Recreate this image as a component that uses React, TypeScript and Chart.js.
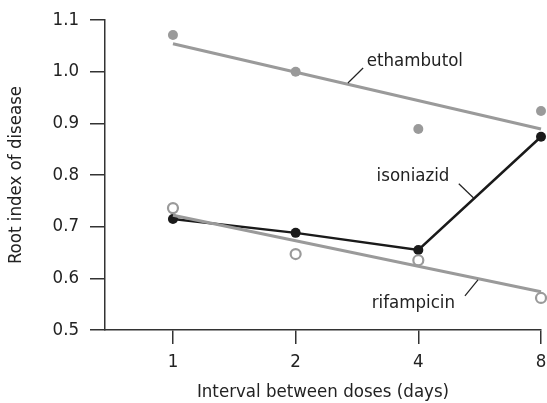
import React, { useEffect, useRef } from "react";
import { Chart, registerables } from "chart.js";
Chart.register(...registerables);

const doseLabels = ["1", "2", "4", "8"];
const doseIndex = [0, 1, 2, 3];
const ethambutol = [1.071, 1.0, 0.889, 0.924];
const isoniazid = [0.715, 0.688, 0.655, 0.874];
const rifampicin = [0.736, 0.647, 0.635, 0.562];
const ethambutolFit = [1.054, 0.889];
const rifampicinFit = [0.722, 0.574];
const fitX = [0, 3];
const yTicks = [0.5, 0.6, 0.7, 0.8, 0.9, 1.0, 1.1];

// label annotations in data units: [text, x, y, leaderX1, leaderY1, leaderX2, leaderY2]
const annotations: [string, number, number, number, number, number, number][] = [
  ["ethambutol", 1.58, 1.021, 1.55, 1.007, 1.426, 0.978],
  ["isoniazid", 1.66, 0.798, 2.33, 0.783, 2.453, 0.755],
  ["rifampicin", 1.62, 0.552, 2.38, 0.566, 2.486, 0.597],
];

const FONT = "'DejaVu Sans Condensed', 'Liberation Sans', sans-serif";
const GRAY = "#9a9a9a";
const BLACK = "#1a1a1a";
const AXIS = "#333333";
const FS = 18.5;

const labelPlugin = {
  id: "labels",
  afterDatasetsDraw(chart: any) {
    const { ctx, scales } = chart;
    const xs = scales.x;
    const ys = scales.y;
    ctx.save();
    ctx.font = `${FS}px ${FONT}`;
    ctx.fillStyle = "#222";
    ctx.textBaseline = "middle";
    ctx.textAlign = "left";
    ctx.strokeStyle = "#222";
    ctx.lineWidth = 1.2;
    for (const a of annotations) {
      ctx.fillText(a[0], xs.getPixelForValue(a[1]), ys.getPixelForValue(a[2]));
      ctx.beginPath();
      ctx.moveTo(xs.getPixelForValue(a[3]), ys.getPixelForValue(a[4]));
      ctx.lineTo(xs.getPixelForValue(a[5]), ys.getPixelForValue(a[6]));
      ctx.stroke();
    }
    ctx.restore();
  },
};

export default function App() {
  const ref = useRef<HTMLCanvasElement | null>(null);
  useEffect(() => {
    document.body.style.margin = "0";
    const canvas = ref.current!;
    const chart = new Chart(canvas, {
      type: "line",
      data: {
        datasets: [
          {
            data: fitX.map((x, i) => ({ x, y: ethambutolFit[i] })),
            borderColor: GRAY,
            borderWidth: 3,
            pointRadius: 0,
          },
          {
            data: fitX.map((x, i) => ({ x, y: rifampicinFit[i] })),
            borderColor: GRAY,
            borderWidth: 3,
            pointRadius: 0,
          },
          {
            data: doseIndex.map((x, i) => ({ x, y: ethambutol[i] })),
            showLine: false,
            pointRadius: 5,
            pointBackgroundColor: GRAY,
            pointBorderColor: GRAY,
            pointBorderWidth: 0,
          },
          {
            data: doseIndex.map((x, i) => ({ x, y: rifampicin[i] })),
            showLine: false,
            pointRadius: 5,
            pointBackgroundColor: "#ffffff",
            pointBorderColor: GRAY,
            pointBorderWidth: 2.2,
          },
          {
            data: doseIndex.map((x, i) => ({ x, y: isoniazid[i] })),
            borderColor: BLACK,
            borderWidth: 2.5,
            pointRadius: 5,
            pointBackgroundColor: BLACK,
            pointBorderColor: BLACK,
            pointBorderWidth: 0,
          },
        ],
      },
      options: {
        animation: false,
        responsive: false,
        clip: false,
        layout: { autoPadding: false, padding: { top: 20, right: 6, left: 0, bottom: 0 } },
        plugins: { legend: { display: false }, tooltip: { enabled: false } },
        scales: {
          x: {
            type: "linear",
            min: -0.554,
            max: 3,
            afterBuildTicks: (s: any) => {
              s.ticks = doseIndex.map((v) => ({ value: v }));
            },
            afterFit: (s: any) => {
              s.height = 73;
              s.paddingRight = 0;
              s.paddingLeft = 0;
            },
            border: { display: true, color: AXIS, width: 1.5 },
            grid: {
              drawOnChartArea: false,
              drawTicks: true,
              tickLength: 14,
              color: AXIS,
              lineWidth: 1.5,
            },
            ticks: {
              padding: 7,
              color: "#222",
              font: { family: FONT, size: FS },
              callback: (v: any) => doseLabels[v as number] ?? "",
            },
            title: {
              display: true,
              text: "Interval between doses (days)",
              color: "#222",
              font: { family: FONT, size: FS },
              padding: { top: 6, bottom: 0 },
            },
          },
          y: {
            min: 0.5,
            max: 1.1,
            afterBuildTicks: (s: any) => {
              s.ticks = yTicks.map((v) => ({ value: v }));
            },
            afterFit: (s: any) => {
              s.width = 105;
              s.paddingTop = 0;
              s.paddingBottom = 0;
            },
            border: { display: true, color: AXIS, width: 1.5 },
            grid: {
              drawOnChartArea: false,
              drawTicks: true,
              tickLength: 15,
              color: AXIS,
              lineWidth: 1.5,
            },
            ticks: {
              padding: 11,
              color: "#222",
              font: { family: FONT, size: FS },
              callback: (v: any) => Number(v).toFixed(1),
            },
            title: {
              display: true,
              text: "Root index of disease",
              color: "#222",
              font: { family: FONT, size: FS },
              padding: { top: 5, bottom: 0 },
            },
          },
        },
      },
      plugins: [labelPlugin],
    } as any);
    return () => chart.destroy();
  }, []);
  return <canvas ref={ref} width={547} height={403} style={{ display: "block" }} />;
}
